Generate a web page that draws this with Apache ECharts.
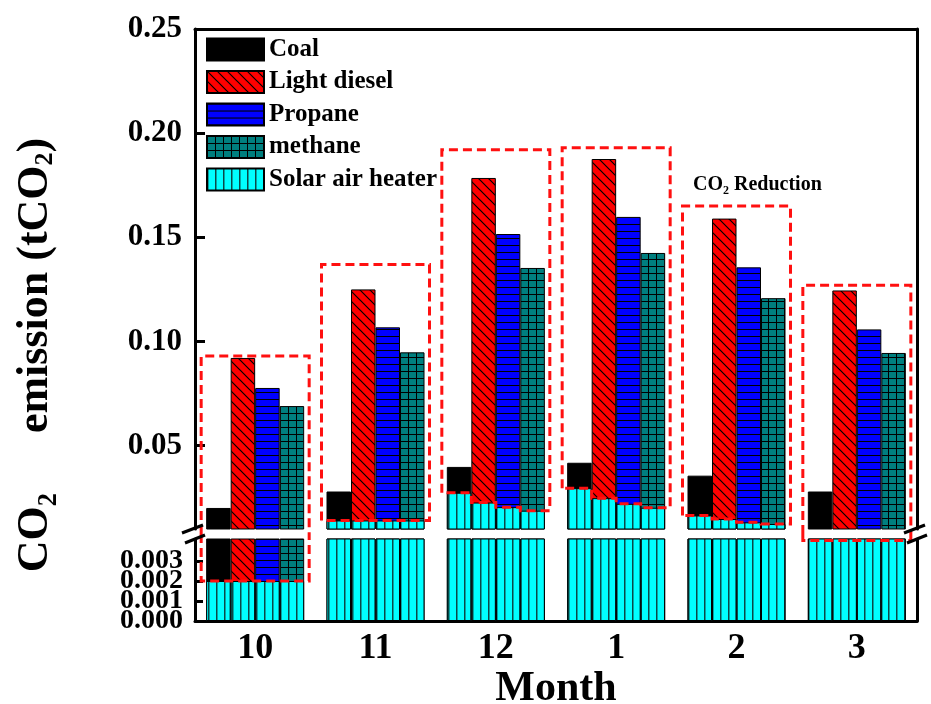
<!DOCTYPE html>
<html>
<head>
<meta charset="utf-8">
<script src="https://cdn.jsdelivr.net/npm/echarts@6/dist/echarts.min.js"></script>
<style>
html, body { margin: 0; padding: 0; background: #fff; }
#main { width: 931px; height: 704px; }
</style>
</head>
<body>
<div id="main"></div>
<script>
// data
var months = ['10', '11', '12', '1', '2', '3'];
var fuelNames = ['Coal', 'Light diesel', 'Propane', 'methane'];
var solarName = 'Solar air heater';

var coal = [0.0201, 0.0280, 0.0398, 0.0418, 0.0356, 0.0280];
var diesel = [0.0921, 0.1250, 0.1785, 0.1876, 0.1590, 0.1245];
var propane = [0.0777, 0.1068, 0.1516, 0.1598, 0.1356, 0.1058];
var methane = [0.0690, 0.0948, 0.1353, 0.1425, 0.1208, 0.0945];

// solar air heater, one value under each fuel bar
var solarCoal = [0.0020, 0.0141, 0.0274, 0.0296, 0.0165, 0.0080];
var solarDiesel = [0.0020, 0.0141, 0.0227, 0.0248, 0.0148, 0.0080];
var solarPropane = [0.0020, 0.0141, 0.0205, 0.0221, 0.0132, 0.0080];
var solarMethane = [0.0020, 0.0141, 0.0188, 0.0202, 0.0124, 0.0080];

// top of the dashed "CO2 Reduction" boxes
var boxTop = [0.093, 0.137, 0.192, 0.193, 0.165, 0.127];

var upperTicks = [0.05, 0.10, 0.15, 0.20, 0.25];
var lowerTicks = [0, 0.001, 0.002, 0.003];

var UPPER_MIN = 0.01, UPPER_MAX = 0.25;
var LOWER_MIN = 0, LOWER_MAX = 0.0041;

// layout
var GRID_LEFT = 195, GRID_RIGHT = 14;
var UP_TOP = 29, UP_H = 500;
var LOW_TOP = 539, LOW_H = 82;
var GAP = LOW_TOP - (UP_TOP + UP_H);
var BAR_W = 24.5;
var BOX_PAD = 5;
var FONT = '"Liberation Serif", "Times New Roman", serif';

function makePattern(w, h, bg, stroke, lw, draw) {
    var c = document.createElement('canvas');
    c.width = w;
    c.height = h;
    var ctx = c.getContext('2d');
    ctx.fillStyle = bg;
    ctx.fillRect(0, 0, w, h);
    ctx.strokeStyle = stroke;
    ctx.lineWidth = lw;
    ctx.beginPath();
    draw(ctx, w, h);
    ctx.stroke();
    return {image: c, repeat: 'repeat'};
}

var dieselFill = makePattern(10, 10, '#ff0000', '#000', 1.2, function (ctx, w, h) {
    ctx.moveTo(-1, -1); ctx.lineTo(w + 1, h + 1);
    ctx.moveTo(-1, h - 1); ctx.lineTo(1, h + 1);
    ctx.moveTo(w - 1, -1); ctx.lineTo(w + 1, 1);
});
var propaneFill = makePattern(4, 7, '#0000ff', '#000', 1, function (ctx, w, h) {
    ctx.moveTo(0, 0.5); ctx.lineTo(w, 0.5);
});
var methaneFill = makePattern(8, 7, '#007f7f', '#000', 1, function (ctx, w, h) {
    ctx.moveTo(0.5, 0); ctx.lineTo(0.5, h);
    ctx.moveTo(0, 0.5); ctx.lineTo(w, 0.5);
});
var solarFill = makePattern(8, 4, '#00ffff', '#0b4848', 1.5, function (ctx, w, h) {
    ctx.moveTo(0.75, 0); ctx.lineTo(0.75, h);
});

var fuelData = [coal, diesel, propane, methane];
var fuelFill = ['#000000', dieselFill, propaneFill, methaneFill];
var solarData = [solarCoal, solarDiesel, solarPropane, solarMethane];

var boxData = months.map(function (m, i) {
    return [i, boxTop[i], solarCoal[i], solarDiesel[i], solarPropane[i], solarMethane[i]];
});

var dashStyle = {fill: 'none', stroke: '#ff1010', lineWidth: 3, lineDash: [9, 5]};

// dashed box, part that lies in the upper grid
function renderUpperBox(params, api) {
    var cs = params.coordSys;
    var i = api.value(0);
    var c = api.coord([i, api.value(1)]);
    var yTop = c[1];
    var e0 = c[0] - BAR_W * 2;
    var L = e0 - BOX_PAD, R = e0 + BAR_W * 4 + BOX_PAD;
    var bots = [api.value(2), api.value(3), api.value(4), api.value(5)];
    var visible = bots.every(function (b) { return b >= UPPER_MIN; });
    if (!visible) {
        var yc = cs.y + cs.height + GAP / 2;
        return {type: 'polyline', shape: {points: [[L, yc], [L, yTop], [R, yTop], [R, yc]]}, style: dashStyle};
    }
    var yb = bots.map(function (b) { return api.coord([i, b])[1]; });
    var pts = [[L, yb[0]], [L, yTop], [R, yTop], [R, yb[3]]];
    for (var k = 3; k >= 1; k--) {
        pts.push([e0 + BAR_W * k, yb[k]]);
        pts.push([e0 + BAR_W * k, yb[k - 1]]);
    }
    pts.push([L, yb[0]]);
    return {type: 'polyline', shape: {points: pts}, style: dashStyle};
}

// dashed box, part that lies in the lower grid
function renderLowerBox(params, api) {
    var cs = params.coordSys;
    var i = api.value(0);
    var bots = [api.value(2), api.value(3), api.value(4), api.value(5)];
    var below = bots.some(function (b) { return b < UPPER_MIN; });
    if (!below) {
        return null;
    }
    var cx = api.coord([i, 0])[0];
    var e0 = cx - BAR_W * 2;
    var L = e0 - BOX_PAD, R = e0 + BAR_W * 4 + BOX_PAD;
    var yc = cs.y - GAP / 2;
    var yb = bots.map(function (b) { return api.coord([i, Math.min(b, LOWER_MAX)])[1] + (b > LOWER_MAX ? 1.5 : 0); });
    var pts = [[L, yc], [L, yb[0]]];
    for (var k = 1; k <= 3; k++) {
        pts.push([e0 + BAR_W * k, yb[k - 1]]);
        pts.push([e0 + BAR_W * k, yb[k]]);
    }
    pts.push([R, yb[3]]);
    pts.push([R, yc]);
    return {type: 'polyline', shape: {points: pts}, style: dashStyle};
}

var series = [];
[0, 1].forEach(function (g) {
    var xFuel = g * 2, xSolar = g * 2 + 1, yIdx = g * 2;
    fuelNames.forEach(function (name, k) {
        series.push({
            name: name,
            type: 'bar',
            xAxisIndex: xFuel,
            yAxisIndex: yIdx,
            data: fuelData[k],
            barWidth: BAR_W,
            barGap: '0%',
            clip: true,
            z: 2,
            itemStyle: {color: fuelFill[k], borderColor: '#000', borderWidth: 1}
        });
    });
    solarData.forEach(function (d) {
        series.push({
            name: solarName,
            type: 'bar',
            xAxisIndex: xSolar,
            yAxisIndex: yIdx,
            data: d,
            barWidth: BAR_W,
            barGap: '0%',
            clip: true,
            z: 3,
            itemStyle: {color: solarFill, borderColor: '#000', borderWidth: 1}
        });
    });
});
series.push({
    type: 'custom',
    xAxisIndex: 0,
    yAxisIndex: 0,
    data: boxData,
    encode: {x: 0, y: 1},
    clip: false,
    z: 5,
    renderItem: renderUpperBox
});
series.push({
    type: 'custom',
    xAxisIndex: 2,
    yAxisIndex: 2,
    data: boxData,
    encode: {x: 0, y: 1},
    clip: false,
    z: 5,
    renderItem: renderLowerBox
});

var axisLine = {show: true, onZero: false, lineStyle: {color: '#000', width: 3}};

function catAxis(grid, extra) {
    var a = {
        type: 'category',
        gridIndex: grid,
        data: months,
        axisLine: axisLine,
        axisTick: {show: false},
        axisLabel: {show: false},
        splitLine: {show: false}
    };
    for (var k in extra) { a[k] = extra[k]; }
    return a;
}

function sideAxis(grid, min, max) {
    return {
        type: 'value', gridIndex: grid, position: 'right', min: min, max: max,
        axisLine: axisLine, axisTick: {show: false}, axisLabel: {show: false}, splitLine: {show: false}
    };
}

// the lower labels sit closer than their own height, so they are split over
// two stacked left axes to keep every one of them visible
var lowerEven = lowerTicks.filter(function (v, i) { return i % 2 === 0; });
var lowerOdd = lowerTicks.filter(function (v, i) { return i % 2 === 1; });

function lowerAxis(values, showLine) {
    return {
        type: 'value', gridIndex: 1, position: 'left', offset: 0, min: LOWER_MIN, max: LOWER_MAX,
        axisLine: showLine ? axisLine : {show: false},
        axisTick: {show: true, inside: true, length: 8, customValues: values, lineStyle: {width: 3, color: '#000'}},
        axisLabel: {
            margin: 12, customValues: values, fontSize: 28, fontWeight: 'bold', fontFamily: FONT, color: '#000',
            hideOverlap: false, showMinLabel: true, showMaxLabel: true,
            formatter: function (v) { return v.toFixed(3); }
        },
        splitLine: {show: false}
    };
}

function breakMark(x) {
    var y = UP_TOP + UP_H + GAP / 2;
    var st = {stroke: '#000', lineWidth: 3};
    return [
        {type: 'line', z: 10, shape: {x1: x - 13, y1: y - 1, x2: x + 8, y2: y - 9}, style: st},
        {type: 'line', z: 10, shape: {x1: x - 10, y1: y + 9, x2: x + 10, y2: y + 1}, style: st}
    ];
}

var chart = echarts.init(document.getElementById('main'));
var option = {
    animation: false,
    backgroundColor: '#fff',
    grid: [
        {left: GRID_LEFT, right: GRID_RIGHT, top: UP_TOP, height: UP_H, outerBoundsMode: 'none'},
        {left: GRID_LEFT, right: GRID_RIGHT, top: LOW_TOP, height: LOW_H, outerBoundsMode: 'none'}
    ],
    legend: {
        data: fuelNames.concat([solarName]),
        orient: 'vertical',
        left: 206,
        top: 37,
        padding: 0,
        itemWidth: 57,
        itemHeight: 22,
        itemGap: 7.5,
        icon: 'rect',
        selectedMode: false,
        textStyle: {fontSize: 25, fontWeight: 'bold', fontFamily: FONT, color: '#000'}
    },
    xAxis: [
        catAxis(0, {position: 'top'}),
        catAxis(0, {show: false}),
        catAxis(1, {
            position: 'bottom',
            axisLabel: {show: true, margin: 10, fontSize: 36, fontWeight: 'bold', fontFamily: FONT, color: '#000'},
            name: 'Month',
            nameLocation: 'middle',
            nameGap: 46,
            nameTextStyle: {fontSize: 42, fontWeight: 'bold', fontFamily: FONT, color: '#000'}
        }),
        catAxis(1, {show: false})
    ],
    yAxis: [
        {
            type: 'value', gridIndex: 0, position: 'left', min: UPPER_MIN, max: UPPER_MAX,
            axisLine: axisLine,
            axisTick: {show: true, inside: true, length: 10, customValues: upperTicks, lineStyle: {width: 3, color: '#000'}},
            axisLabel: {
                margin: 13, customValues: upperTicks, fontSize: 31, fontWeight: 'bold', fontFamily: FONT, color: '#000',
                hideOverlap: false, showMinLabel: true, showMaxLabel: true,
                formatter: function (v) { return v.toFixed(2); }
            },
            splitLine: {show: false}
        },
        sideAxis(0, UPPER_MIN, UPPER_MAX),
        lowerAxis(lowerEven, true),
        sideAxis(1, LOWER_MIN, LOWER_MAX),
        lowerAxis(lowerOdd, false)
    ],
    graphic: breakMark(GRID_LEFT).concat(breakMark(931 - GRID_RIGHT)).concat([
        {
            type: 'text',
            x: 36,
            y: 355,
            rotation: Math.PI / 2,
            style: {
                text: '{a|CO₂}{g| }{a|emission (tCO}{s|2}{a|)}',
                align: 'center',
                verticalAlign: 'middle',
                rich: {
                    a: {fontSize: 44, lineHeight: 44, fontWeight: 'bold', fontFamily: FONT, fill: '#000'},
                    g: {width: 60, fontSize: 44, lineHeight: 44},
                    s: {fontSize: 26, lineHeight: 22, verticalAlign: 'bottom', fontWeight: 'bold', fontFamily: FONT, fill: '#000'}
                }
            }
        },
        {
            type: 'text',
            x: 693,
            y: 185,
            style: {
                text: 'CO₂ Reduction',
                align: 'left',
                verticalAlign: 'middle',
                fontSize: 20,
                fontWeight: 'bold',
                fontFamily: FONT,
                fill: '#000'
            }
        }
    ]),
    series: series
};
chart.setOption(option);
</script>
</body>
</html>
